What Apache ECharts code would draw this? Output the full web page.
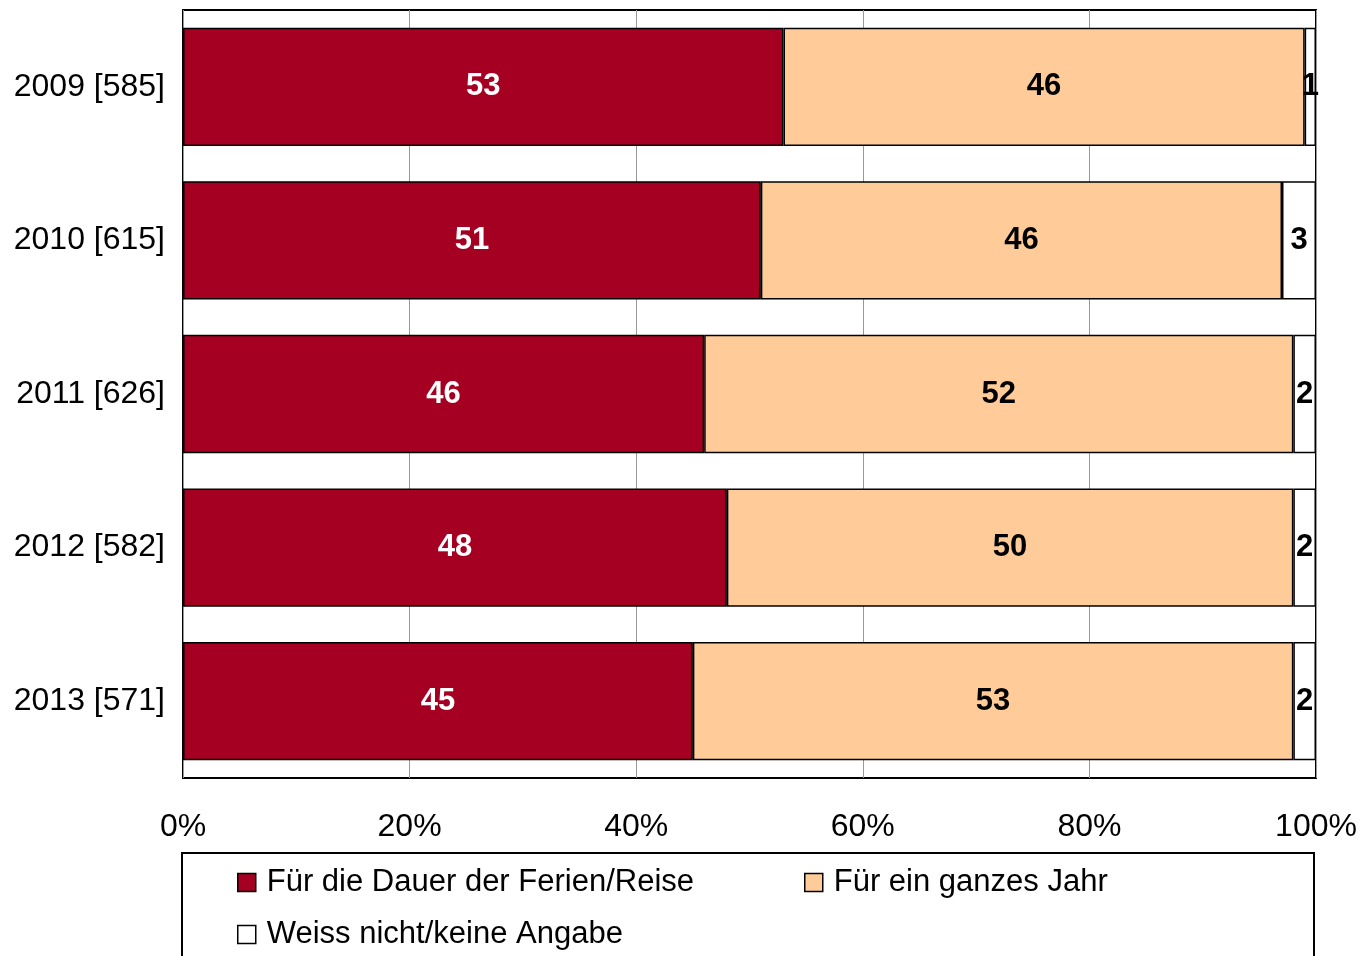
<!DOCTYPE html>
<html>
<head>
<meta charset="utf-8">
<script src="https://cdn.jsdelivr.net/npm/echarts@6/dist/echarts.min.js"></script>
<style>
  html, body { margin: 0; padding: 0; background: #fff; }
  #chart { width: 1370px; height: 956px; }
</style>
</head>
<body>
<div id="chart"></div>
<script>
var years = ['2009 [585]', '2010 [615]', '2011 [626]', '2012 [582]', '2013 [571]']
var seriesNames = ['Für die Dauer der Ferien/Reise', 'Für ein ganzes Jahr', 'Weiss nicht/keine Angabe']
var dauer = [53, 51, 46, 48, 45]
var jahr = [46, 46, 52, 50, 53]
var weissNicht = [1, 3, 2, 2, 2]
var colors = ['#A50021', '#FFCC99', '#FFFFFF']
var labelColors = ['#fff', '#000', '#000']

var font = 'Liberation Sans, Arial, sans-serif'
var chart = echarts.init(document.getElementById('chart'))

function makeSeries (i, data) {
  return {
    name: seriesNames[i],
    type: 'bar',
    stack: 'total',
    data: data,
    barCategoryGap: '23%',
    itemStyle: {
      color: colors[i],
      borderColor: '#000',
      borderWidth: 1.5
    },
    label: {
      show: true,
      position: 'inside',
      color: labelColors[i],
      fontFamily: font,
      fontWeight: 'bold',
      fontSize: 31
    }
  }
}

// one legend per item so each can sit where the reference puts it
function makeLegend (i, left, top) {
  return {
    data: [seriesNames[i]],
    left: left,
    top: top,
    icon: 'rect',
    itemWidth: 18,
    itemHeight: 18,
    itemGap: 0,
    padding: 0,
    textStyle: { fontFamily: font, fontSize: 31, color: '#000', padding: [0, 0, 0, 6] },
    itemStyle: { borderColor: '#000', borderWidth: 1.5 },
    selectedMode: false
  }
}

var option = {
  animation: false,
  backgroundColor: '#fff',
  grid: {
    left: 183,
    right: 54,
    top: 10,
    bottom: 178,
    show: true,
    borderColor: '#000',
    borderWidth: 2,
    containLabel: false
  },
  legend: [
    makeLegend(0, 237, 867),
    makeLegend(1, 804, 867),
    makeLegend(2, 237, 919)
  ],
  graphic: [{
    type: 'rect',
    shape: { x: 182, y: 853, width: 1132, height: 130 },
    style: { fill: 'none', stroke: '#000', lineWidth: 2 },
    z: -1
  }],
  xAxis: {
    type: 'value',
    min: 0,
    max: 100,
    interval: 20,
    axisLine: { show: false },
    axisTick: { show: false },
    axisLabel: {
      formatter: '{value}%',
      margin: 33,
      color: '#000',
      fontFamily: font,
      fontSize: 32
    },
    splitLine: { show: true, lineStyle: { color: '#999', width: 1 } }
  },
  yAxis: {
    type: 'category',
    data: years,
    inverse: true,
    axisLine: { show: false },
    axisTick: { show: false },
    axisLabel: {
      margin: 18,
      color: '#000',
      fontFamily: font,
      fontSize: 32
    }
  },
  series: [
    makeSeries(0, dauer),
    makeSeries(1, jahr),
    makeSeries(2, weissNicht)
  ]
}

chart.setOption(option)
</script>
</body>
</html>
